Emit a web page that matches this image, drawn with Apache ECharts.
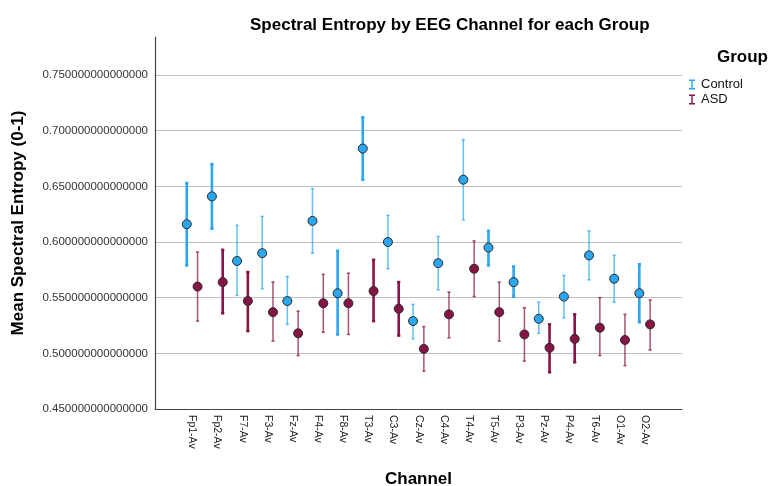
<!DOCTYPE html>
<html>
<head>
<meta charset="utf-8">
<title>Spectral Entropy by EEG Channel</title>
<script src="https://cdn.jsdelivr.net/npm/echarts@6/dist/echarts.min.js"></script>
<style>
  html, body { margin: 0; padding: 0; background: #fff; }
  #chart { width: 769px; height: 486px; }
</style>
</head>
<body>
<div id="chart"></div>
<script>
// EEG channels (x categories)
const channels = ['Fp1-Av','Fp2-Av','F7-Av','F3-Av','Fz-Av','F4-Av','F8-Av','T3-Av','C3-Av',
                  'Cz-Av','C4-Av','T4-Av','T5-Av','P3-Av','Pz-Av','P4-Av','T6-Av','O1-Av','O2-Av'];

// Control group: mean and error bar limits
const controlMean = [0.616,0.641,0.583,0.590,0.547,0.619,0.554,0.684,0.600,
                     0.529,0.581,0.656,0.595,0.564,0.531,0.551,0.588,0.567,0.554];
const controlLow  = [0.579,0.612,0.552,0.558,0.526,0.590,0.517,0.656,0.576,
                     0.513,0.557,0.620,0.579,0.551,0.518,0.532,0.566,0.546,0.528];
const controlHigh = [0.653,0.670,0.615,0.623,0.569,0.648,0.592,0.712,0.624,
                     0.544,0.605,0.692,0.610,0.578,0.546,0.570,0.610,0.588,0.580];

// ASD group: mean and error bar limits
const asdMean = [0.560,0.564,0.547,0.537,0.518,0.545,0.545,0.556,0.540,
                 0.504,0.535,0.576,0.537,0.517,0.505,0.513,0.523,0.512,0.526];
const asdLow  = [0.529,0.536,0.520,0.511,0.498,0.519,0.517,0.529,0.516,
                 0.484,0.514,0.551,0.511,0.493,0.483,0.492,0.498,0.489,0.503];
const asdHigh = [0.591,0.593,0.573,0.564,0.538,0.571,0.572,0.584,0.564,
                 0.524,0.555,0.601,0.564,0.541,0.526,0.535,0.550,0.535,0.548];

// Y axis tick values
const yTicks = [0.45,0.50,0.55,0.60,0.65,0.70,0.75];

// Stroke weight of each whisker (1 = heavy, 0 = light)
const controlHeavy = [1,1,0,0,0,0,1,1,0,0,0,0,1,1,0,0,0,0,1];
const asdHeavy     = [0,1,1,0,0,0,0,1,1,0,0,0,0,0,1,1,0,0,0];

const BLUE = '#2ba7ef';
const MAROON = '#861445';
const FONT = '"Liberation Sans", Arial, sans-serif';
const Y_MIN = yTicks[0];
const Y_TOP = 0.7842;
const DODGE = 5.4;

function whiskerSeries(name, low, high, heavy, color, shift) {
  return {
    name: name,
    type: 'custom',
    xAxisIndex: 2,
    yAxisIndex: 2,
    z: 3,
    data: channels.map((c, i) => [i, low[i], high[i], heavy[i]]),
    renderItem: function (params, api) {
      const lo = api.coord([api.value(0), api.value(1)]);
      const hi = api.coord([api.value(0), api.value(2)]);
      const x = lo[0] + shift;
      const strong = api.value(3) === 1;
      const style = {
        stroke: color,
        lineWidth: strong ? 2.6 : 1.5,
        opacity: strong ? 1 : 0.72
      };
      return {
        type: 'group',
        children: [
          { type: 'line', shape: { x1: x, y1: hi[1], x2: x, y2: lo[1] }, style: style },
          { type: 'line', shape: { x1: x - 1.6, y1: hi[1], x2: x + 1.6, y2: hi[1] }, style: style },
          { type: 'line', shape: { x1: x - 1.6, y1: lo[1], x2: x + 1.6, y2: lo[1] }, style: style }
        ]
      };
    }
  };
}

function pointSeries(name, mean, color, shift) {
  return {
    name: name,
    type: 'scatter',
    xAxisIndex: 2,
    yAxisIndex: 2,
    z: 4,
    symbol: 'circle',
    symbolSize: 9,
    symbolOffset: [shift, 0],
    itemStyle: { color: color, opacity: 1, borderColor: '#2a2a2a', borderWidth: 1 },
    emphasis: { disabled: true },
    data: mean
  };
}

const ibeam = 'path://M0,0h6v1.4h-2.3v7.2h2.3v1.4h-6v-1.4h2.3v-7.2h-2.3z';

const chart = echarts.init(document.getElementById('chart'), null, { renderer: 'canvas' });
chart.setOption({
  animation: false,
  backgroundColor: '#fff',
  textStyle: { fontFamily: FONT },
  title: [
    {
      text: 'Spectral Entropy by EEG Channel for each Group',
      left: 245, top: 12,
      textStyle: { fontSize: 17, fontWeight: 'bold', color: '#000', fontFamily: FONT }
    },
    {
      text: 'Group',
      left: 712, top: 44,
      textStyle: { fontSize: 17, fontWeight: 'bold', color: '#000', fontFamily: FONT }
    }
  ],
  legend: {
    orient: 'vertical',
    left: 684, top: 73,
    itemWidth: 6, itemHeight: 10, itemGap: 2,
    textStyle: { fontSize: 13, color: '#111', fontFamily: FONT, padding: [0, 0, 0, 1] },
    data: [
      { name: 'Control', icon: ibeam, itemStyle: { color: BLUE } },
      { name: 'ASD', icon: ibeam, itemStyle: { color: MAROON } }
    ],
    selectedMode: false
  },
  grid: [
    // frame: full-height axis lines
    { left: 155, right: 87, top: 37, bottom: 77, outerBoundsMode: 'none' },
    // gridlines and tick labels
    { left: 155, right: 87, top: 75, bottom: 77, outerBoundsMode: 'none' },
    // channel band holding the marks
    { left: 179.6, right: 111.7, top: 37, bottom: 77, outerBoundsMode: 'none' }
  ],
  xAxis: [
    {
      gridIndex: 0, type: 'value', min: 0, max: 1,
      axisLine: { show: true, onZero: false, lineStyle: { color: '#444', width: 1.2 } },
      axisTick: { show: false }, axisLabel: { show: false }, splitLine: { show: false },
      name: 'Channel', nameLocation: 'middle', nameGap: 62,
      nameTextStyle: { fontSize: 17, fontWeight: 'bold', color: '#000', fontFamily: FONT }
    },
    {
      gridIndex: 1, type: 'value', min: 0, max: 1, show: false
    },
    {
      gridIndex: 2, type: 'category', data: channels, boundaryGap: true,
      axisLine: { show: false }, axisTick: { show: false }, splitLine: { show: false },
      axisLabel: {
        rotate: -90, interval: 0, margin: 6,
        fontSize: 10.5, color: '#222', fontFamily: FONT
      }
    }
  ],
  yAxis: [
    {
      gridIndex: 0, type: 'value', min: Y_MIN, max: Y_TOP,
      axisLine: { show: true, onZero: false, lineStyle: { color: '#444', width: 1.2 } },
      axisTick: { show: false }, axisLabel: { show: false }, splitLine: { show: false },
      name: 'Mean Spectral Entropy (0-1)', nameLocation: 'middle', nameGap: 128,
      nameRotate: 90,
      nameTextStyle: { fontSize: 17, fontWeight: 'bold', color: '#000', fontFamily: FONT }
    },
    {
      gridIndex: 1, type: 'value', min: Y_MIN, max: yTicks[yTicks.length - 1], interval: 0.05,
      axisLine: { show: false }, axisTick: { show: false },
      axisLabel: {
        margin: 7, fontSize: 11.5, color: '#333', fontFamily: FONT,
        formatter: v => v.toFixed(15)
      },
      splitLine: { show: true, lineStyle: { color: '#c0c0c0', width: 1.2 } }
    },
    {
      gridIndex: 2, type: 'value', min: Y_MIN, max: Y_TOP, show: false
    }
  ],
  series: [
    whiskerSeries('Control', controlLow, controlHigh, controlHeavy, BLUE, -DODGE),
    whiskerSeries('ASD', asdLow, asdHigh, asdHeavy, MAROON, DODGE),
    pointSeries('Control', controlMean, BLUE, -DODGE),
    pointSeries('ASD', asdMean, MAROON, DODGE)
  ]
});
</script>
</body>
</html>
